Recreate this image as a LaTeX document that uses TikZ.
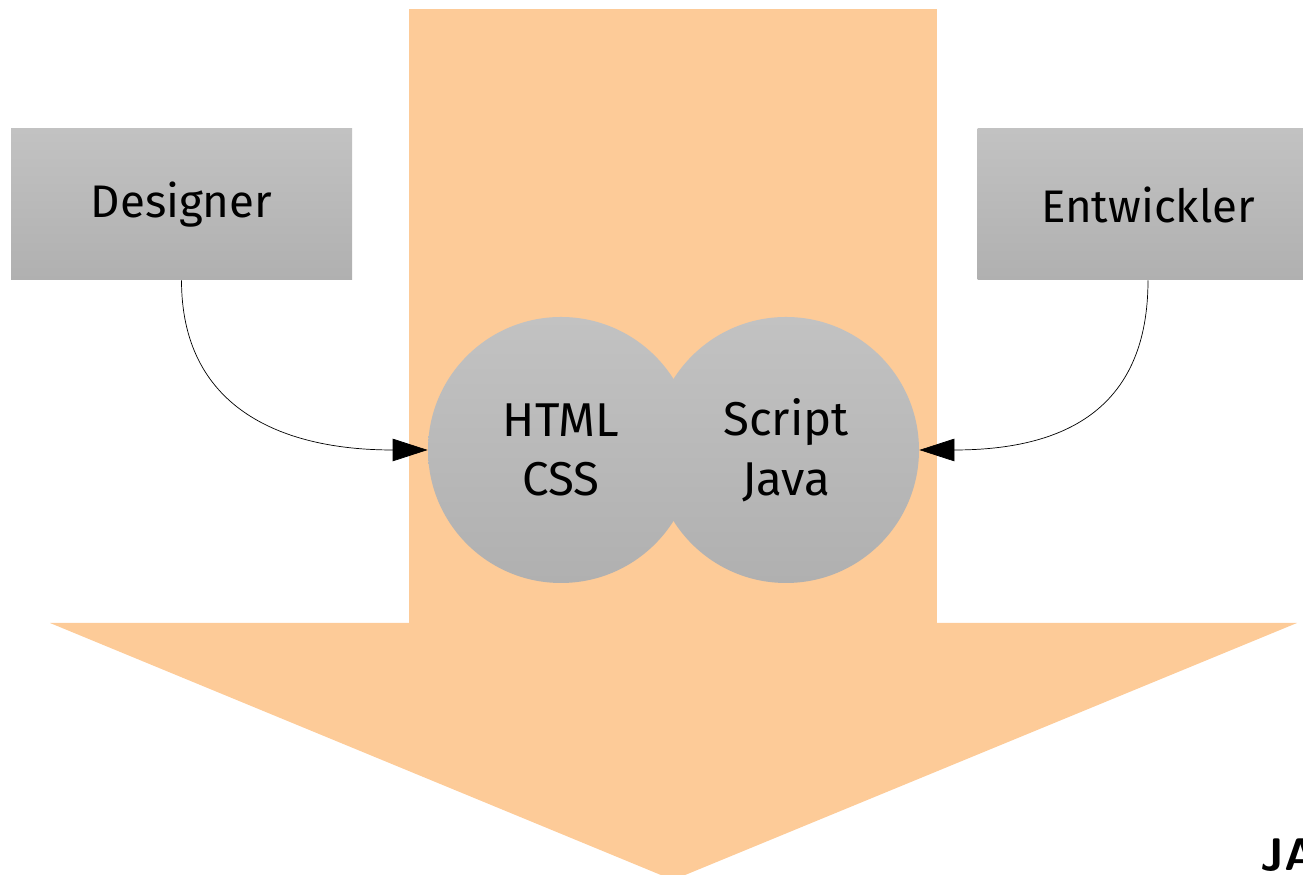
\documentclass[tikz,border=0pt]{standalone}
\usepackage{fontspec}
\setmainfont{Fira Sans}
\usepackage{tikz}
\usetikzlibrary{shapes.geometric, arrows.meta, positioning}
\definecolor{flowColor}{RGB}{253, 203, 152}
\definecolor{boxTop}{RGB}{194, 194, 194}
\definecolor{boxBottom}{RGB}{176, 176, 176}

\tikzset{
    rolebox/.style={rectangle, top color=boxTop, bottom color=boxBottom,
        minimum width=6.82cm, minimum height=3.02cm, font=\fontsize{26}{31}\selectfont},
    techcircle/.style={circle, top color=boxTop, bottom color=boxBottom,
        minimum size=5.32cm, align=center, font=\fontsize{27}{34}\selectfont},
    feed/.style={-{Triangle[length=0.7cm, width=0.45cm]}, thin}
}

\begin{document}
\begin{tikzpicture}
    \useasboundingbox (0,0) rectangle (26.06,17.5);

    % Big arrow (shaft and head)
    \fill[flowColor] (8.18,17.32) rectangle (18.74,5.04);
    \fill[flowColor] (1.0,5.04) -- (25.94,5.04) -- (13.46,-0.1) -- cycle;

    % Roles
    \node[rolebox] (designer) at (3.63,13.41) {Designer};
    \node[rolebox] (entwickler) at (22.96,13.41) {Entwickler};

    % Technologies
    \node[techcircle] (html) at (11.22,8.5) {HTML\\CSS};
    \node[techcircle] (script) at (15.72,8.5) {Script\\Java};

    % Connectors
    \draw[feed] (designer.south) .. controls +(0,-2.5) and +(-3,0) .. (html.west);
    \draw[feed] (entwickler.south) .. controls +(0,-2.5) and +(3,0) .. (script.east);

    % Cut-off label
    \node[anchor=north west, inner sep=0pt, font=\sffamily\bfseries\fontsize{26}{30}\selectfont] (ja) at (25.2,0.74) {JA};
\end{tikzpicture}
\end{document}
